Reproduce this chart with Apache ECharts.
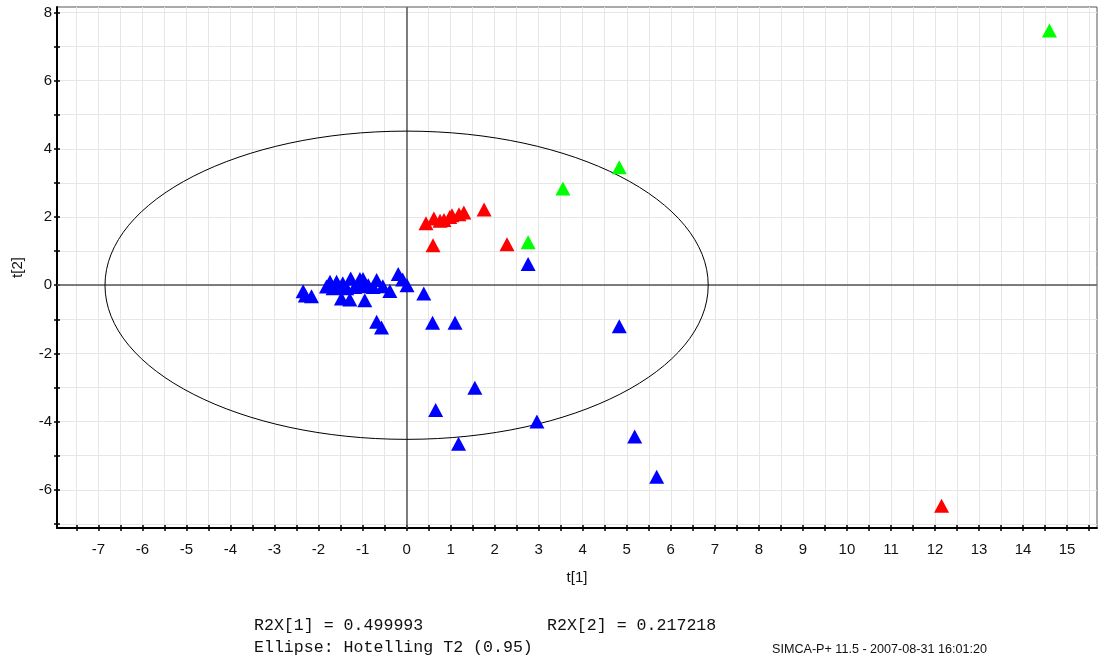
<!DOCTYPE html>
<html>
<head>
<meta charset="utf-8">
<script src="https://cdn.jsdelivr.net/npm/echarts@6/dist/echarts.min.js"></script>
<style>
  html, body { margin: 0; padding: 0; background: #fff; }
  #chart { width: 1098px; height: 659px; }
</style>
</head>
<body>
<div id="chart"></div>
<script>
// Score plot t[1] / t[2]
const bluePoints = [
  [-2.35, -0.18], [-2.30, -0.30], [-2.16, -0.32],
  [-1.82, -0.04], [-1.74, 0.10], [-1.67, -0.09], [-1.59, 0.10], [-1.52, -0.06],
  [-1.48, -0.39], [-1.45, 0.06], [-1.36, -0.09], [-1.29, -0.42], [-1.27, 0.20],
  [-1.18, -0.05], [-1.06, 0.18], [-1.02, -0.03], [-0.99, 0.18], [-0.95, -0.44],
  [-0.87, 0.00], [-0.76, -0.05], [-0.68, 0.15], [-0.54, -0.03], [-0.38, -0.17],
  [-0.19, 0.33], [-0.09, 0.17], [0.01, 0.00], [0.39, -0.24],
  [-0.68, -1.07], [-0.57, -1.24], [0.59, -1.10], [1.10, -1.10],
  [2.76, 0.62], [4.83, -1.20], [1.55, -3.01], [0.66, -3.66], [2.96, -4.00],
  [1.18, -4.65], [5.18, -4.44], [5.68, -5.62]
];
const redPoints = [
  [0.44, 1.82], [0.62, 1.96], [0.76, 1.89], [0.85, 1.91], [0.98, 2.00],
  [1.03, 2.05], [1.19, 2.08], [1.30, 2.13], [1.76, 2.22],
  [0.60, 1.17], [2.28, 1.20], [12.15, -6.47]
];
const greenPoints = [
  [2.76, 1.26], [3.55, 2.84], [4.83, 3.46], [14.60, 7.47]
];

// Hotelling T2 (0.95) ellipse: centre and semi-axes in score units
const ellipseParams = [[0, 0, 6.85, 4.52]];

// Axis ranges and tick positions
const xRange = [-7.94, 15.68];
const yRange = [-7.12, 8.16];
const xLabelValues = [-7, -6, -5, -4, -3, -2, -1, 0, 1, 2, 3, 4, 5, 6, 7, 8, 9, 10, 11, 12, 13, 14, 15];
const xTickValues = [-7.5, -7, -6.5, -6, -5.5, -5, -4.5, -4, -3.5, -3, -2.5, -2, -1.5, -1, -0.5, 0,
  0.5, 1, 1.5, 2, 2.5, 3, 3.5, 4, 4.5, 5, 5.5, 6, 6.5, 7, 7.5, 8, 8.5, 9, 9.5, 10, 10.5,
  11, 11.5, 12, 12.5, 13, 13.5, 14, 14.5, 15, 15.5];
const yLabelValues = [-6, -4, -2, 0, 2, 4, 6, 8];
const yTickValues = [-7, -6, -5, -4, -3, -2, -1, 0, 1, 2, 3, 4, 5, 6, 7, 8];

const statsLine1a = 'R2X[1] = 0.499993';
const statsLine1b = 'R2X[2] = 0.217218';
const statsLine2 = 'Ellipse: Hotelling T2 (0.95)';
const stamp = 'SIMCA-P+ 11.5 - 2007-08-31 16:01:20';

const chart = echarts.init(document.getElementById('chart'), null, { renderer: 'canvas' });

const labelFont = { fontFamily: 'Liberation Sans, Arial, sans-serif', fontSize: 15, color: '#111' };
const triSize = [15, 14];
const monoFont = '16.6px "Liberation Mono", "Courier New", monospace';

function mainAxis(range, ticks, labels, extra) {
  return Object.assign({
    type: 'value',
    min: range[0],
    max: range[1],
    axisLine: { show: true, onZero: false, lineStyle: { color: '#000', width: 2 } },
    axisTick: { show: true, inside: false, length: 3, customValues: ticks, lineStyle: { color: '#000', width: 1.5 } },
    axisLabel: Object.assign({ customValues: labels, formatter: v => String(v) }, labelFont),
    splitLine: { show: true, lineStyle: { color: '#e6e6e6', width: 1 } },
    nameTextStyle: { fontFamily: 'Liberation Sans, Arial, sans-serif', fontSize: 15, color: '#111' }
  }, extra);
}
function innerTickAxis(range, ticks, extra) {
  return Object.assign({
    type: 'value',
    min: range[0],
    max: range[1],
    axisLine: { show: false, onZero: false },
    axisTick: { show: true, inside: true, length: 3, customValues: ticks, lineStyle: { color: '#000', width: 1.5 } },
    axisLabel: { show: false },
    splitLine: { show: false }
  }, extra);
}

function triangleSeries(name, data, color) {
  return {
    type: 'scatter',
    name: name,
    data: data,
    symbol: 'triangle',
    symbolSize: triSize,
    itemStyle: { color: color, opacity: 1 },
    z: 4
  };
}

const blueSeries = triangleSeries('blue', bluePoints, '#0000ff');
blueSeries.markLine = {
  silent: true,
  symbol: ['none', 'none'],
  label: { show: false },
  lineStyle: { color: '#555', width: 1.5, type: 'solid', opacity: 1 },
  data: [{ xAxis: 0 }, { yAxis: 0 }],
  z: 2
};

chart.setOption({
  animation: false,
  backgroundColor: '#fff',
  grid: {
    left: 57, right: 1, top: 7, bottom: 131,
    show: true, borderColor: '#555', borderWidth: 1, backgroundColor: 'transparent'
  },
  xAxis: [
    mainAxis(xRange, xTickValues, xLabelValues, {
      position: 'bottom', name: 't[1]', nameLocation: 'middle', nameGap: 42,
      axisLabel: Object.assign({ customValues: xLabelValues, margin: 14, formatter: v => String(v) }, labelFont)
    }),
    innerTickAxis(xRange, xTickValues, { position: 'bottom' })
  ],
  yAxis: [
    mainAxis(yRange, yTickValues, yLabelValues, {
      position: 'left', name: 't[2]', nameLocation: 'middle', nameGap: 32,
      axisLabel: Object.assign({ customValues: yLabelValues, margin: 5, formatter: v => String(v) }, labelFont)
    }),
    innerTickAxis(yRange, yTickValues, { position: 'left' })
  ],
  series: [
    {
      type: 'custom',
      name: 'T2 ellipse',
      data: ellipseParams,
      silent: true,
      z: 3,
      renderItem: function (params, api) {
        const c = api.coord([api.value(0), api.value(1)]);
        const s = api.size([api.value(2), api.value(3)]);
        return {
          type: 'ellipse',
          shape: { cx: c[0], cy: c[1], rx: s[0], ry: s[1] },
          style: { fill: 'none', stroke: '#000', lineWidth: 1 }
        };
      }
    },
    blueSeries,
    triangleSeries('red', redPoints, '#ff0000'),
    triangleSeries('green', greenPoints, '#00ff00')
  ],
  graphic: [
    { type: 'text', left: 254, top: 617, style: { text: statsLine1a, font: monoFont, fill: '#111' } },
    { type: 'text', left: 547, top: 617, style: { text: statsLine1b, font: monoFont, fill: '#111' } },
    { type: 'text', left: 254, top: 639, style: { text: statsLine2, font: monoFont, fill: '#111' } },
    { type: 'text', left: 772, top: 643, style: { text: stamp, font: '12.6px "Liberation Sans Narrow", "Arial Narrow", sans-serif', fill: '#111' } }
  ]
});
</script>
</body>
</html>
